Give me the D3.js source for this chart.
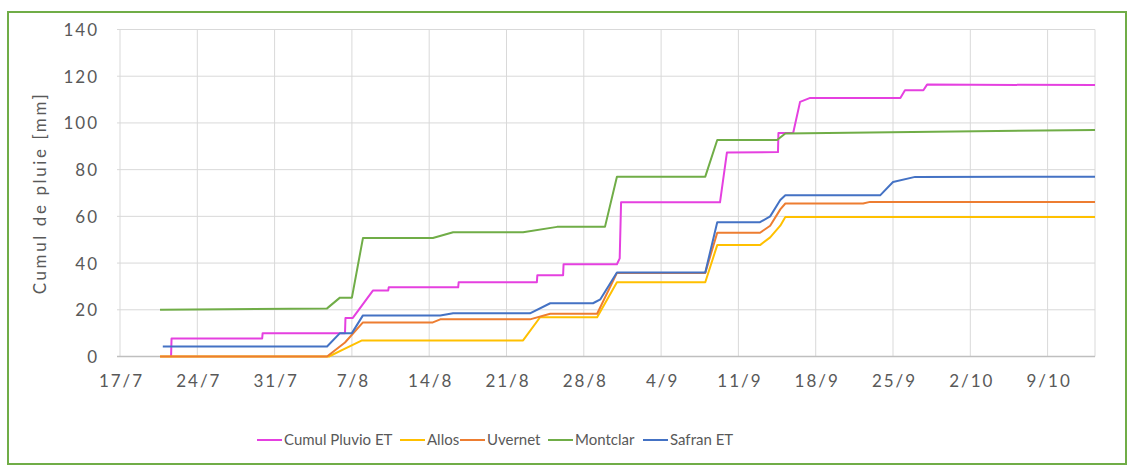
<!DOCTYPE html>
<html>
<head>
<meta charset="utf-8">
<script src="https://cdn.jsdelivr.net/npm/d3@7"></script>
<style>
  html, body { margin: 0; padding: 0; background: #fff; }
  svg { display: block; }
  text { font-family: Lato, "Liberation Sans", sans-serif; fill: #595959; }
</style>
</head>
<body>
<svg id="chart" width="1133" height="466"></svg>
<script>
// ---- data ----
const tickLabels = ["17/7","24/7","31/7","7/8","14/8","21/8","28/8","4/9","11/9","18/9","25/9","2/10","9/10"];
const yTicks = [0,20,40,60,80,100,120,140];
const domainStart = "17/07 00:00";
const domainEnd = "13/10 07:00";

const seriesNames = ["Cumul Pluvio ET","Allos","Uvernet","Montclar","Safran ET"];
const seriesColors = ["#e540e0","#ffc000","#ed7d31","#70ad47","#4472c4"];

const pluvioT = ["21/07 15:00","21/07 16:00","29/07 21:00","29/07 22:00","06/08 09:00","06/08 10:00","07/08 02:00","08/08 22:00","10/08 07:00","10/08 08:00","16/08 15:00","16/08 16:00","23/08 18:00","23/08 19:00","26/08 03:00","26/08 04:00","31/08 00:00","31/08 06:00","31/08 09:00","09/09 08:00","09/09 23:00","14/09 14:00","14/09 15:00","15/09 23:00","16/09 14:00","17/09 12:00","25/09 16:00","26/09 02:00","27/09 18:00","28/09 02:00","13/10 07:00"];
const pluvioV = [0,7.7,7.7,10,10,16.5,16.5,28.3,28.3,29.6,29.6,31.8,31.8,34.8,34.8,39.5,39.5,42,66,66,87.3,87.5,95.7,95.7,109,110.7,110.7,114,114,116.4,116.2];

const allosT = ["20/07 15:00","04/08 22:00","06/08 09:00","07/08 22:00","22/08 12:00","24/08 01:00","29/08 05:00","31/08 00:00","08/09 00:00","09/09 02:00","12/09 23:00","13/09 21:00","14/09 19:00","15/09 06:00","13/10 07:00"];
const allosV = [0,0,3.4,6.9,6.9,16.8,16.8,31.8,31.8,47.7,47.7,51,56,59.7,59.7];

const uvernetT = ["20/07 15:00","04/08 18:00","06/08 09:00","08/08 00:00","14/08 08:00","15/08 00:00","23/08 03:00","24/08 23:00","29/08 05:00","31/08 00:00","08/09 00:00","09/09 02:00","12/09 23:00","13/09 21:00","14/09 19:00","15/09 06:00","22/09 07:00","22/09 22:00","13/10 07:00"];
const uvernetV = [0,0,6,14.6,14.6,15.9,15.9,18.3,18.3,35.8,35.8,53,53,56,63,65.5,65.5,66.2,66.2];

const montclarT = ["20/07 15:00","04/08 18:00","05/08 22:00","07/08 00:00","08/08 00:00","14/08 08:00","16/08 04:00","22/08 12:00","25/08 14:00","29/08 22:00","31/08 00:00","08/09 00:00","09/09 02:00","14/09 12:00","15/09 06:00","13/10 07:00"];
const montclarV = [20,20.6,25.2,25.2,50.7,50.7,53.2,53.2,55.5,55.5,77,77,92.7,92.7,95.5,97];

const safranT = ["20/07 21:00","04/08 18:00","05/08 22:00","07/08 00:00","08/08 00:00","15/08 00:00","16/08 04:00","23/08 03:00","24/08 23:00","28/08 20:00","29/08 12:00","31/08 00:00","08/09 00:00","09/09 02:00","12/09 23:00","13/09 21:00","14/09 19:00","15/09 06:00","23/09 20:00","25/09 00:00","27/09 00:00","13/10 07:00"];
const safranV = [4.3,4.3,10,10,17.6,17.6,18.5,18.5,22.8,22.8,24.5,36,36,57.5,57.5,60,67,69,69,74.7,76.9,77];

// ---- build ----
const parseT = d3.timeParse("%d/%m %H:%M");
const parseTick = d3.timeParse("%d/%m");
const seriesT = [pluvioT, allosT, uvernetT, montclarT, safranT];
const seriesV = [pluvioV, allosV, uvernetV, montclarV, safranV];
const series = seriesNames.map((name, i) => ({
  name, color: seriesColors[i],
  pts: seriesT[i].map((t, j) => ({ t: parseT(t), v: seriesV[i][j] }))
}));

const svg = d3.select("#chart");
const plot = { left: 120, right: 1095, top: 29.5, bottom: 356.5 };

// outer border
svg.append("rect").attr("x", 8).attr("y", 12).attr("width", 1118).attr("height", 452)
  .attr("fill", "#fff").attr("stroke", "#70ad47").attr("stroke-width", 2);

const x = d3.scaleTime().domain([parseT(domainStart), parseT(domainEnd)]).range([plot.left, plot.right]);
const y = d3.scaleLinear().domain([0, 140]).range([plot.bottom, plot.top]);
const tickDates = tickLabels.map(s => parseTick(s));

// grid
const grid = svg.append("g");
grid.selectAll("line.h").data(yTicks.filter(v => v > 0)).join("line")
  .attr("x1", plot.left - 3).attr("x2", plot.right)
  .attr("y1", d => y(d)).attr("y2", d => y(d))
  .attr("stroke", "#d9d9d9").attr("stroke-width", 1);
grid.selectAll("line.v").data(tickDates).join("line")
  .attr("x1", d => x(d)).attr("x2", d => x(d))
  .attr("y1", plot.top).attr("y2", plot.bottom)
  .attr("stroke", "#d9d9d9").attr("stroke-width", 1);
grid.append("line").attr("x1", plot.right).attr("x2", plot.right)
  .attr("y1", plot.top).attr("y2", plot.bottom).attr("stroke", "#d9d9d9");

// y axis
const yAxis = d3.axisLeft(y).tickValues(yTicks).tickSize(0).tickPadding(0);
const gy = svg.append("g").attr("transform", `translate(${plot.left - 21},0)`).call(yAxis);
gy.select(".domain").remove();
gy.selectAll("text").style("font-size", "17px").style("letter-spacing", "2px")
  .attr("fill", "#595959").attr("dy", "0.35em");

// x axis
const xAxis = d3.axisBottom(x).tickValues(tickDates).tickFormat((d, i) => tickLabels[i]).tickSize(0).tickPadding(0);
const gx = svg.append("g").attr("transform", `translate(1,${plot.bottom + 18})`).call(xAxis);
gx.select(".domain").remove();
gx.selectAll("text").style("font-size", "17px").style("letter-spacing", "2px").attr("fill", "#595959");
svg.append("line").attr("x1", plot.left - 3).attr("x2", plot.right)
  .attr("y1", plot.bottom).attr("y2", plot.bottom).attr("stroke", "#bfbfbf").attr("stroke-width", 1.5);

// y title
svg.append("text").attr("transform", `translate(42,${(plot.top + plot.bottom) / 2}) rotate(-90)`)
  .attr("text-anchor", "middle").attr("dominant-baseline", "middle")
  .style("font-size", "17px").style("letter-spacing", "2.6px").text("Cumul de pluie [mm]");

// lines
const line = d3.line().x(d => x(d.t)).y(d => y(d.v));
svg.append("g").selectAll("path").data(series).join("path")
  .attr("d", d => line(d.pts)).attr("fill", "none")
  .attr("stroke", d => d.color).attr("stroke-width", 2).attr("stroke-linejoin", "round");

// legend
const legendX = [257, 400, 460, 548, 643];
const lg = svg.append("g").attr("transform", "translate(0,440)");
const items = lg.selectAll("g").data(series).join("g").attr("transform", (d, i) => `translate(${legendX[i]},0)`);
items.append("line").attr("x1", 0).attr("x2", 25).attr("y1", 0).attr("y2", 0)
  .attr("stroke", d => d.color).attr("stroke-width", 2);
items.append("text").attr("x", 27).attr("dy", "0.35em").style("font-size", "15px").text(d => d.name);
</script>
</body>
</html>
